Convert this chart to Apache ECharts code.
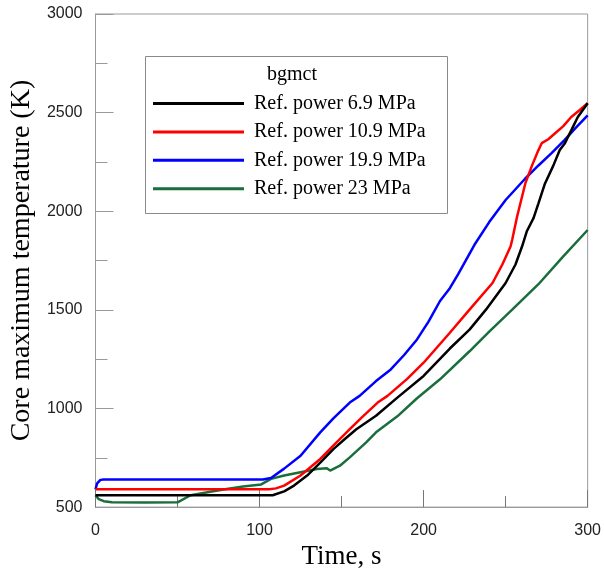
<!DOCTYPE html>
<html>
<head>
<meta charset="utf-8">
<script src="https://cdn.jsdelivr.net/npm/echarts@6/dist/echarts.min.js"></script>
<style>html,body{margin:0;padding:0;background:#fff}#c{width:604px;height:575px}</style>
</head>
<body>
<div id="c"></div>
<script>
const xTicks = [0, 100, 200, 300];
const yTicks = [500, 1000, 1500, 2000, 2500, 3000];
const seriesNames = ['Ref. power 6.9 MPa', 'Ref. power 10.9 MPa', 'Ref. power 19.9 MPa', 'Ref. power 23 MPa'];
const legendTitle = 'bgmct';

const blackTime = [0, 108, 115, 121, 129, 137, 145, 152, 159, 171, 184, 200, 216, 228, 238, 250, 256, 260, 263, 267, 270, 274, 279, 283, 286, 290, 294, 300];
const blackTemp = [560, 560, 580, 609, 660, 725, 794, 845, 895, 963, 1055, 1165, 1304, 1400, 1501, 1636, 1730, 1821, 1900, 1965, 2040, 2141, 2230, 2310, 2343, 2410, 2478, 2548];

const redTime = [0, 106, 110, 115, 125, 137, 146, 155, 163, 172, 178, 190, 200, 216, 228, 242, 248, 253, 254, 257, 262, 266, 270, 272, 276, 280, 285, 290, 295, 300];
const redTemp = [590, 590, 595, 609, 660, 744, 820, 895, 960, 1030, 1064, 1150, 1232, 1384, 1501, 1636, 1730, 1821, 1855, 1973, 2141, 2230, 2310, 2345, 2365, 2394, 2430, 2478, 2512, 2548];

const blueTime = [0, 1, 3, 5, 102, 107, 115, 125, 137, 145, 155, 161, 171, 180, 188, 196, 203, 210, 216, 221, 226, 231, 240, 250, 262, 270, 278, 286, 293, 300];
const blueTemp = [590, 620, 638, 640, 640, 648, 695, 760, 879, 950, 1030, 1064, 1139, 1198, 1270, 1350, 1440, 1545, 1610, 1680, 1755, 1830, 1945, 2057, 2166, 2232, 2295, 2362, 2425, 2486];

const greenTime = [0, 2, 5, 10, 30, 50, 58, 70, 79, 90, 101, 102, 107, 115, 125, 135, 141, 143, 149, 155, 165, 171, 184, 196, 210, 228, 240, 254, 270, 285, 300];
const greenTemp = [560, 540, 530, 525, 523, 524, 560, 578, 590, 604, 615, 625, 643, 660, 677, 693, 697, 685, 710, 752, 828, 879, 960, 1052, 1148, 1290, 1390, 1501, 1630, 1770, 1905];

const colors = ['#000000', '#ff0000', '#0000ff', '#1a6e3c'];
const times = [blackTime, redTime, blueTime, greenTime];
const temps = [blackTemp, redTemp, blueTemp, greenTemp];

function zip(a, b) { return a.map((v, i) => [v, b[i]]); }

const chart = echarts.init(document.getElementById('c'), null, {renderer: 'canvas'});
const axisGray = '#9a9a9a';
const serif = '"Liberation Serif", "Times New Roman", serif';
const sans = '"Liberation Sans", Arial, sans-serif';

chart.setOption({
  animation: false,
  backgroundColor: '#ffffff',
  grid: {left: 93, right: 15, top: 14, bottom: 67, show: true, borderColor: axisGray, borderWidth: 1, containLabel: false},
  title: {
    text: legendTitle, left: 267, top: 65, padding: 0,
    textStyle: {fontFamily: serif, fontSize: 20, fontWeight: 'normal', color: '#000', lineHeight: 20}
  },
  graphic: [{
    type: 'rect', left: 143, top: 54, z: -1, silent: true,
    shape: {width: 302, height: 157},
    style: {fill: 'none', stroke: '#8a8a8a', lineWidth: 1}
  }],
  legend: {
    orient: 'vertical', left: 153, top: 93.5, padding: 0,
    itemWidth: 91, itemHeight: 3, itemGap: 8.4, icon: 'rect',
    textStyle: {fontFamily: serif, fontSize: 20, color: '#000', lineHeight: 20, padding: [0, 0, 0, 5]},
    data: seriesNames
  },
  xAxis: {
    type: 'value', min: xTicks[0], max: xTicks[xTicks.length - 1], interval: 100,
    name: 'Time, s', nameLocation: 'middle', nameGap: 29,
    nameTextStyle: {fontFamily: serif, fontSize: 27, color: '#000'},
    axisLine: {show: true, lineStyle: {color: axisGray, width: 1}},
    axisTick: {show: true, inside: true, length: 17, lineStyle: {color: '#777'}},
    minorTick: {show: true, splitNumber: 2, length: 11, lineStyle: {color: '#777'}},
    splitLine: {show: false},
    axisLabel: {fontFamily: sans, fontSize: 16, color: '#222', margin: 15,
      formatter: v => xTicks.includes(v) ? String(v) : ''}
  },
  yAxis: {
    type: 'value', min: yTicks[0], max: yTicks[yTicks.length - 1], interval: 500,
    name: 'Core maximum temperature (K)', nameLocation: 'middle', nameGap: 46,
    nameTextStyle: {fontFamily: serif, fontSize: 28, color: '#000'},
    axisLine: {show: true, lineStyle: {color: axisGray, width: 1}},
    axisTick: {show: true, inside: true, length: 18, lineStyle: {color: '#999'}},
    minorTick: {show: true, splitNumber: 2, length: 12, lineStyle: {color: '#999'}},
    splitLine: {show: false},
    axisLabel: {fontFamily: sans, fontSize: 16, color: '#222', margin: 13,
      formatter: v => yTicks.includes(v) ? String(v) : ''}
  },
  series: seriesNames.map((n, i) => ({
    name: n, type: 'line', symbol: 'none', smooth: false,
    data: zip(times[i], temps[i]),
    lineStyle: {color: colors[i], width: 2.5},
    itemStyle: {color: colors[i]},
    z: 10 - i
  }))
});
</script>
</body>
</html>
